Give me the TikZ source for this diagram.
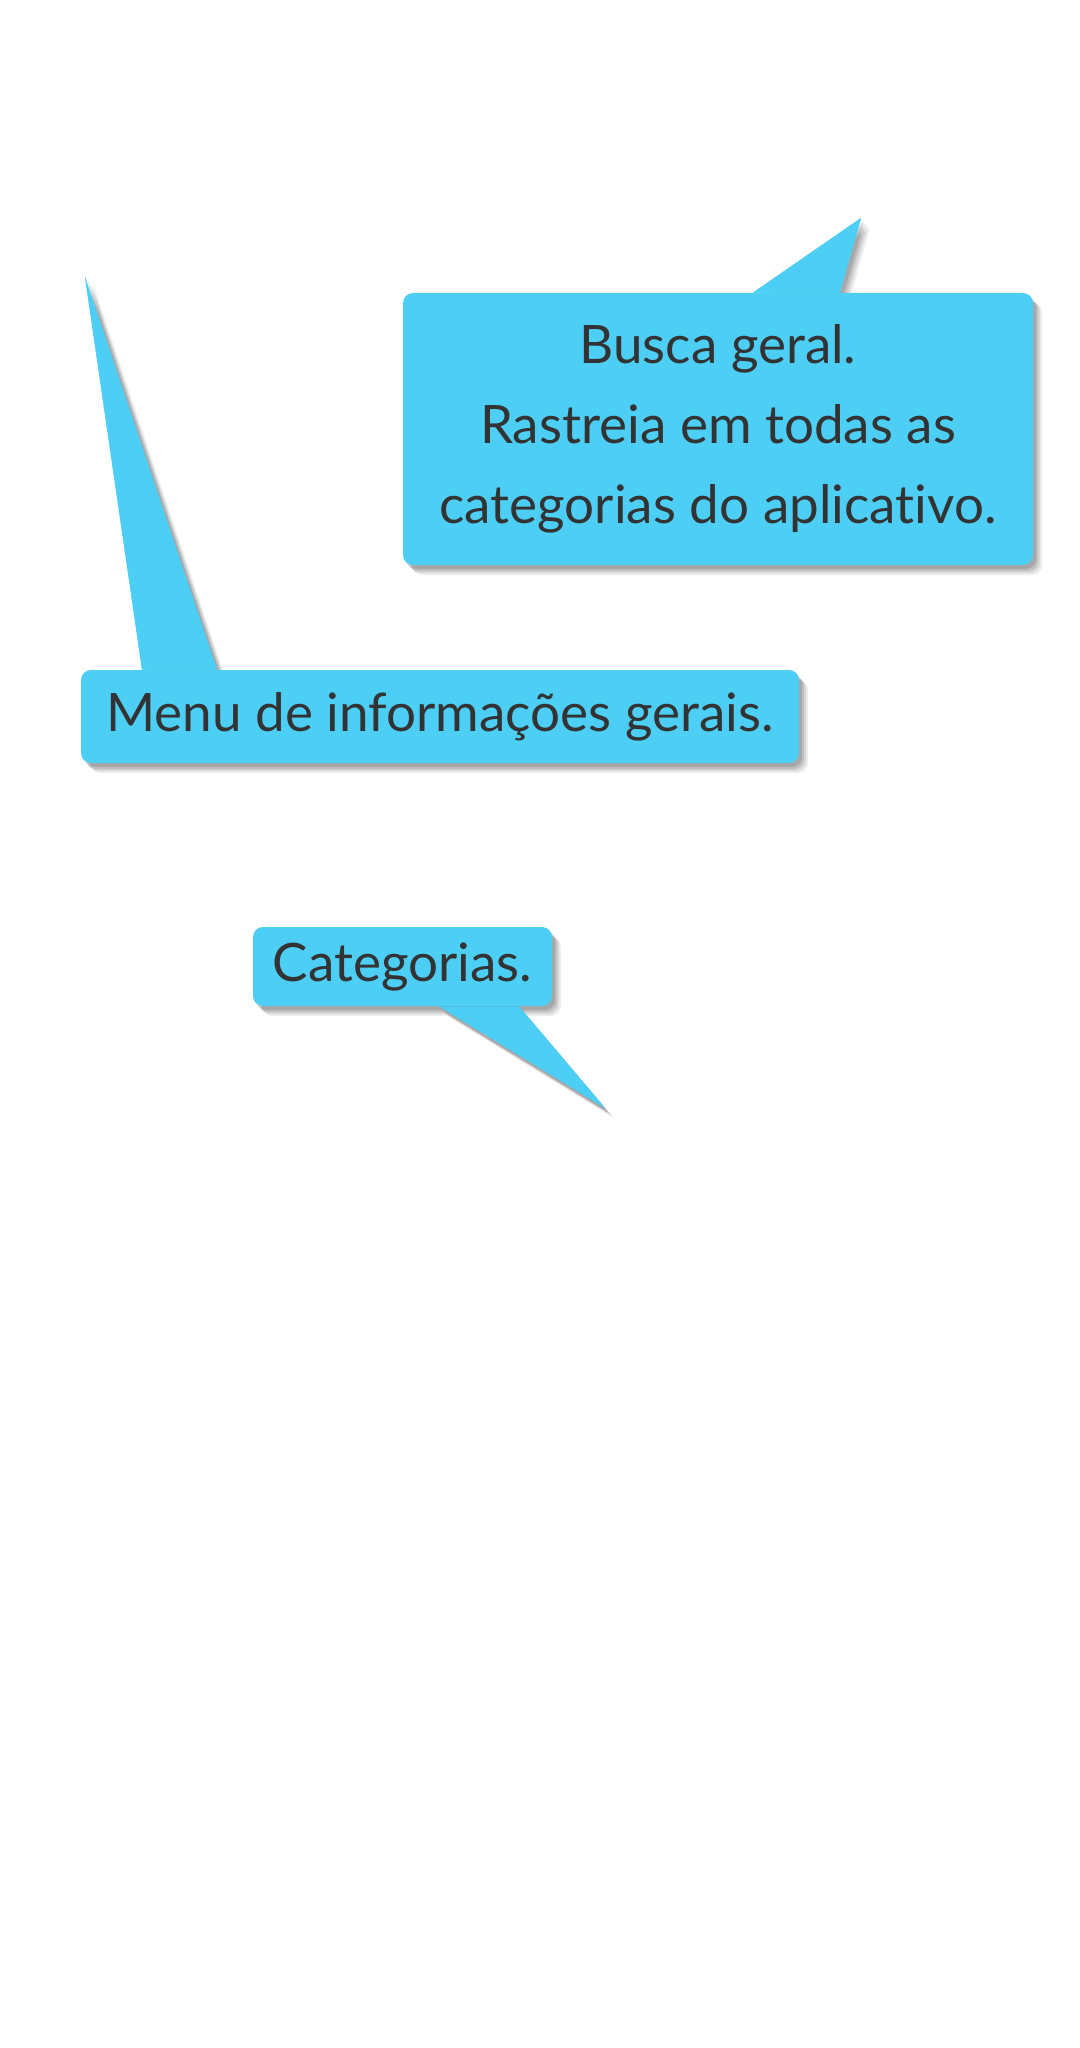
\documentclass[tikz,border=0pt]{standalone}
\usepackage{fontspec}
\setmainfont{Lato}[Ligatures=NoCommon]
\usepackage{tikz}
\usetikzlibrary{positioning,calc,shadows}

\definecolor{bubbleblue}{HTML}{4DCFF5}
\definecolor{bubbletext}{HTML}{333333}

\pgfdeclarelayer{background}
\pgfsetlayers{background,main}

\begin{document}
\begin{tikzpicture}[x=0.5pt, y=-0.5pt,
    softshadow/.style={
      drop shadow={shadow xshift=4.5pt, shadow yshift=-5pt, opacity=.07, fill=black},
      drop shadow={shadow xshift=3.5pt, shadow yshift=-4pt, opacity=.09, fill=black},
      drop shadow={shadow xshift=2.5pt, shadow yshift=-3pt, opacity=.11, fill=black},
      drop shadow={shadow xshift=1.5pt, shadow yshift=-2pt, opacity=.12, fill=black}},
    bubble/.style={fill=bubbleblue, rounded corners=5pt, inner sep=0pt, text=bubbletext,
      align=center, font=\fontsize{26.5}{40}\selectfont, softshadow},
    tail/.style={fill=bubbleblue}]
    \useasboundingbox (0,0) rectangle (1080,2048);

    % Bubbles
    \node[bubble, minimum width=315pt, minimum height=136pt] (busca) at (718,429)
        {Busca geral.\\ Rastreia em todas as\\ categorias do aplicativo.};
    \node[bubble, minimum width=359pt, minimum height=46.5pt] (menu) at (440,716.5)
        {Menu de informações gerais.};
    \node[bubble, minimum width=149.5pt, minimum height=39.5pt] (categorias) at (402.5,966.5)
        {Categorias.};

    % Tail tips
    \coordinate (busca-tip) at (861,218);
    \coordinate (menu-tip) at (85,277);
    \coordinate (categorias-tip) at (605,1108);

    % Canvas and tail shadows, behind the boxes
    \begin{pgfonlayer}{background}
      \fill[white] (0,0) rectangle (1080,2048);
      \foreach \bub/\side/\p/\q in {busca/north/35/122, menu/north/-298/-223, categorias/south/36.5/116.5}
        \fill[tail, softshadow] ($(\bub.\side)+(\p,0)$) -- (\bub-tip) -- ($(\bub.\side)+(\q,0)$) -- cycle;
    \end{pgfonlayer}

    % Tails
    \foreach \bub/\side/\p/\q in {busca/north/35/122, menu/north/-298/-223, categorias/south/36.5/116.5}
      \fill[tail] ($(\bub.\side)+(\p,0)$) -- (\bub-tip) -- ($(\bub.\side)+(\q,0)$) -- cycle;
\end{tikzpicture}
\end{document}
